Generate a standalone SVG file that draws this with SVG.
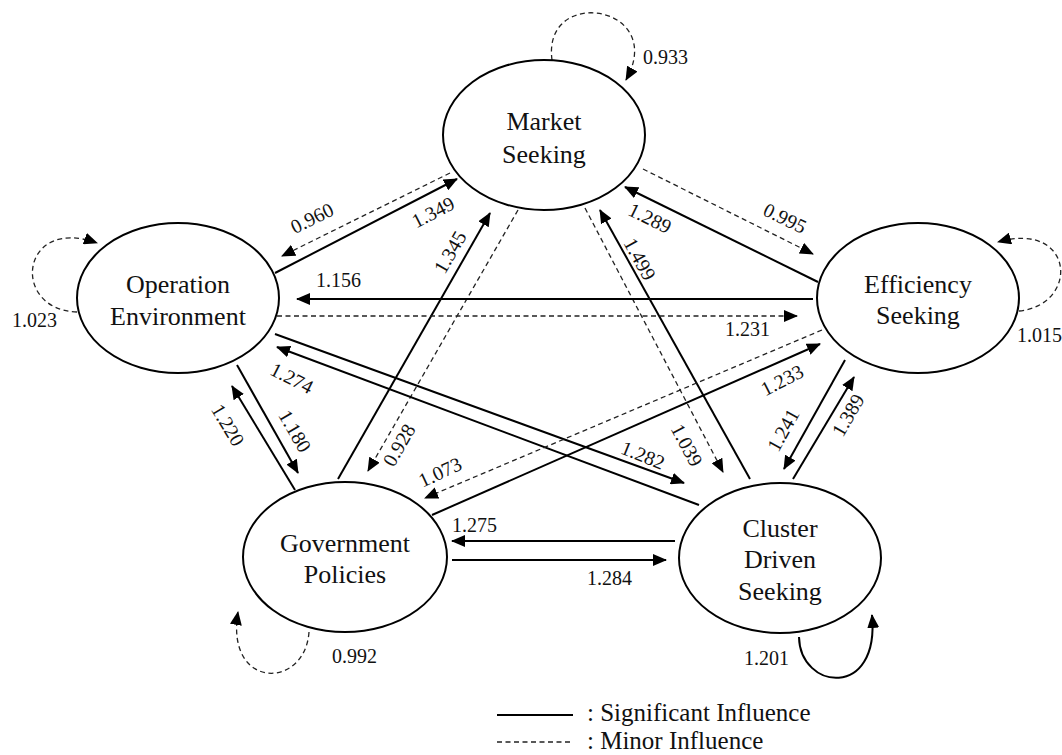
<svg xmlns="http://www.w3.org/2000/svg" width="1062" height="755" viewBox="0 0 1062 755">
<defs>
<style>
.node ellipse{fill:#fff;stroke:#000;stroke-width:2}
.nt{font-family:'Liberation Serif','DejaVu Serif',serif;font-size:26px;fill:#111;text-anchor:middle}
.lb{font-family:'Liberation Serif','DejaVu Serif',serif;font-size:20px;fill:#111}
.lc{text-anchor:middle}
.s{fill:none;stroke:#000;stroke-width:2}
.d{fill:none;stroke:#222;stroke-width:1.3;stroke-dasharray:5 3.5}
.leg{font-family:'Liberation Serif','DejaVu Serif',serif;font-size:25px;fill:#111}
</style>
<marker id="ah" markerUnits="userSpaceOnUse" markerWidth="14" markerHeight="12" viewBox="0 0 14 12" refX="13" refY="6" orient="auto">
<path d="M0,0 L14,6 L0,12 z" fill="#000"/>
</marker>
</defs>
<rect width="1062" height="755" fill="#fff"/>

<g id="connectors">
<path class="d" d="M450,173 L282,256" marker-end="url(#ah)"/>
<path class="s" d="M275,273 L457,179" marker-end="url(#ah)"/>
<path class="s" d="M338,479 L490,213" marker-end="url(#ah)"/>
<path class="d" d="M518,210 L368,471" marker-end="url(#ah)"/>
<path class="d" d="M585,208 L723,472" marker-end="url(#ah)"/>
<path class="s" d="M750,479 L600,210" marker-end="url(#ah)"/>
<path class="d" d="M643,169 L813,254" marker-end="url(#ah)"/>
<path class="s" d="M818,282 L625,187" marker-end="url(#ah)"/>
<path class="s" d="M813,299 L297,299" marker-end="url(#ah)"/>
<path class="d" d="M277,316 L797,316" marker-end="url(#ah)"/>
<path class="s" d="M275,334 L684,483" marker-end="url(#ah)"/>
<path class="s" d="M699,505 L277,347" marker-end="url(#ah)"/>
<path class="s" d="M432,515 L820,344" marker-end="url(#ah)"/>
<path class="d" d="M822,330 L425,498" marker-end="url(#ah)"/>
<path class="s" d="M295,490 L232,386" marker-end="url(#ah)"/>
<path class="s" d="M237,365 L298,473" marker-end="url(#ah)"/>
<path class="s" d="M845,360 L784,469" marker-end="url(#ah)"/>
<path class="s" d="M793,479 L854,377" marker-end="url(#ah)"/>
<path class="s" d="M675,541 L452,541" marker-end="url(#ah)"/>
<path class="s" d="M452,560 L666,560" marker-end="url(#ah)"/>
<path class="d" d="M552,60 C542,-15 668,5 626,80" marker-end="url(#ah)"/>
<path class="d" d="M77,312 C10,310 20,215 97,243" marker-end="url(#ah)"/>
<path class="d" d="M1019,311 C1080,305 1075,220 998,242" marker-end="url(#ah)"/>
<path class="d" d="M309,632 C305,690 225,690 238,612" marker-end="url(#ah)"/>
<path class="s" d="M799,637 C800,690 880,700 872,615" marker-end="url(#ah)"/>
</g>

<g id="labels">
<text class="lb lc" transform="translate(312,218) rotate(-26)" dy="7">0.960</text>
<text class="lb lc" transform="translate(433,212) rotate(-27)" dy="7">1.349</text>
<text class="lb lc" transform="translate(450,252) rotate(-60)" dy="7">1.345</text>
<text class="lb lc" transform="translate(399,445) rotate(-60)" dy="7">0.928</text>
<text class="lb lc" transform="translate(687,445) rotate(62)" dy="7">1.039</text>
<text class="lb lc" transform="translate(640,259) rotate(61)" dy="7">1.499</text>
<text class="lb lc" transform="translate(785,218) rotate(26)" dy="7">0.995</text>
<text class="lb lc" transform="translate(650,218) rotate(26)" dy="7">1.289</text>
<text class="lb" x="316" y="287">1.156</text>
<text class="lb" x="725" y="336">1.231</text>
<text class="lb lc" transform="translate(292,378) rotate(27)" dy="7">1.274</text>
<text class="lb lc" transform="translate(643,455) rotate(22)" dy="7">1.282</text>
<text class="lb lc" transform="translate(782,380) rotate(-27)" dy="7">1.233</text>
<text class="lb lc" transform="translate(440,472) rotate(-25)" dy="7">1.073</text>
<text class="lb lc" transform="translate(228,425) rotate(59)" dy="7">1.220</text>
<text class="lb lc" transform="translate(295,431) rotate(60)" dy="7">1.180</text>
<text class="lb lc" transform="translate(783,430) rotate(-61)" dy="7">1.241</text>
<text class="lb lc" transform="translate(848,415) rotate(-60)" dy="7">1.389</text>
<text class="lb" x="452" y="532">1.275</text>
<text class="lb" x="587" y="585">1.284</text>
<text class="lb" x="744" y="665">1.201</text>
<text class="lb" x="332" y="663">0.992</text>
<text class="lb" x="643" y="64">0.933</text>
<text class="lb" x="12" y="327">1.023</text>
<text class="lb" x="1017" y="342">1.015</text>
</g>

<g id="market-seeking" class="node">
<ellipse cx="544" cy="135" rx="101" ry="75"/>
<text class="nt" x="544" y="130">Market</text>
<text class="nt" x="544" y="163">Seeking</text>
</g>
<g id="operation-environment" class="node">
<ellipse cx="178" cy="298" rx="101" ry="75"/>
<text class="nt" x="178" y="293">Operation</text>
<text class="nt" x="178" y="325">Environment</text>
</g>
<g id="efficiency-seeking" class="node">
<ellipse cx="918" cy="298" rx="101" ry="75"/>
<text class="nt" x="918" y="293">Efficiency</text>
<text class="nt" x="918" y="324">Seeking</text>
</g>
<g id="government-policies" class="node">
<ellipse cx="345" cy="557" rx="102" ry="75"/>
<text class="nt" x="345" y="552">Government</text>
<text class="nt" x="345" y="583">Policies</text>
</g>
<g id="cluster-driven-seeking" class="node">
<ellipse cx="780" cy="558" rx="101" ry="75"/>
<text class="nt" x="780" y="537">Cluster</text>
<text class="nt" x="780" y="568">Driven</text>
<text class="nt" x="780" y="600">Seeking</text>
</g>

<g id="legend">
<line x1="497" y1="715" x2="573" y2="715" stroke="#000" stroke-width="2"/>
<line x1="497" y1="742" x2="573" y2="742" stroke="#222" stroke-width="1.3" stroke-dasharray="5 3.5"/>
<text class="leg" x="587" y="721">: Significant Influence</text>
<text class="leg" x="587" y="749">: Minor Influence</text>
</g>
</svg>
